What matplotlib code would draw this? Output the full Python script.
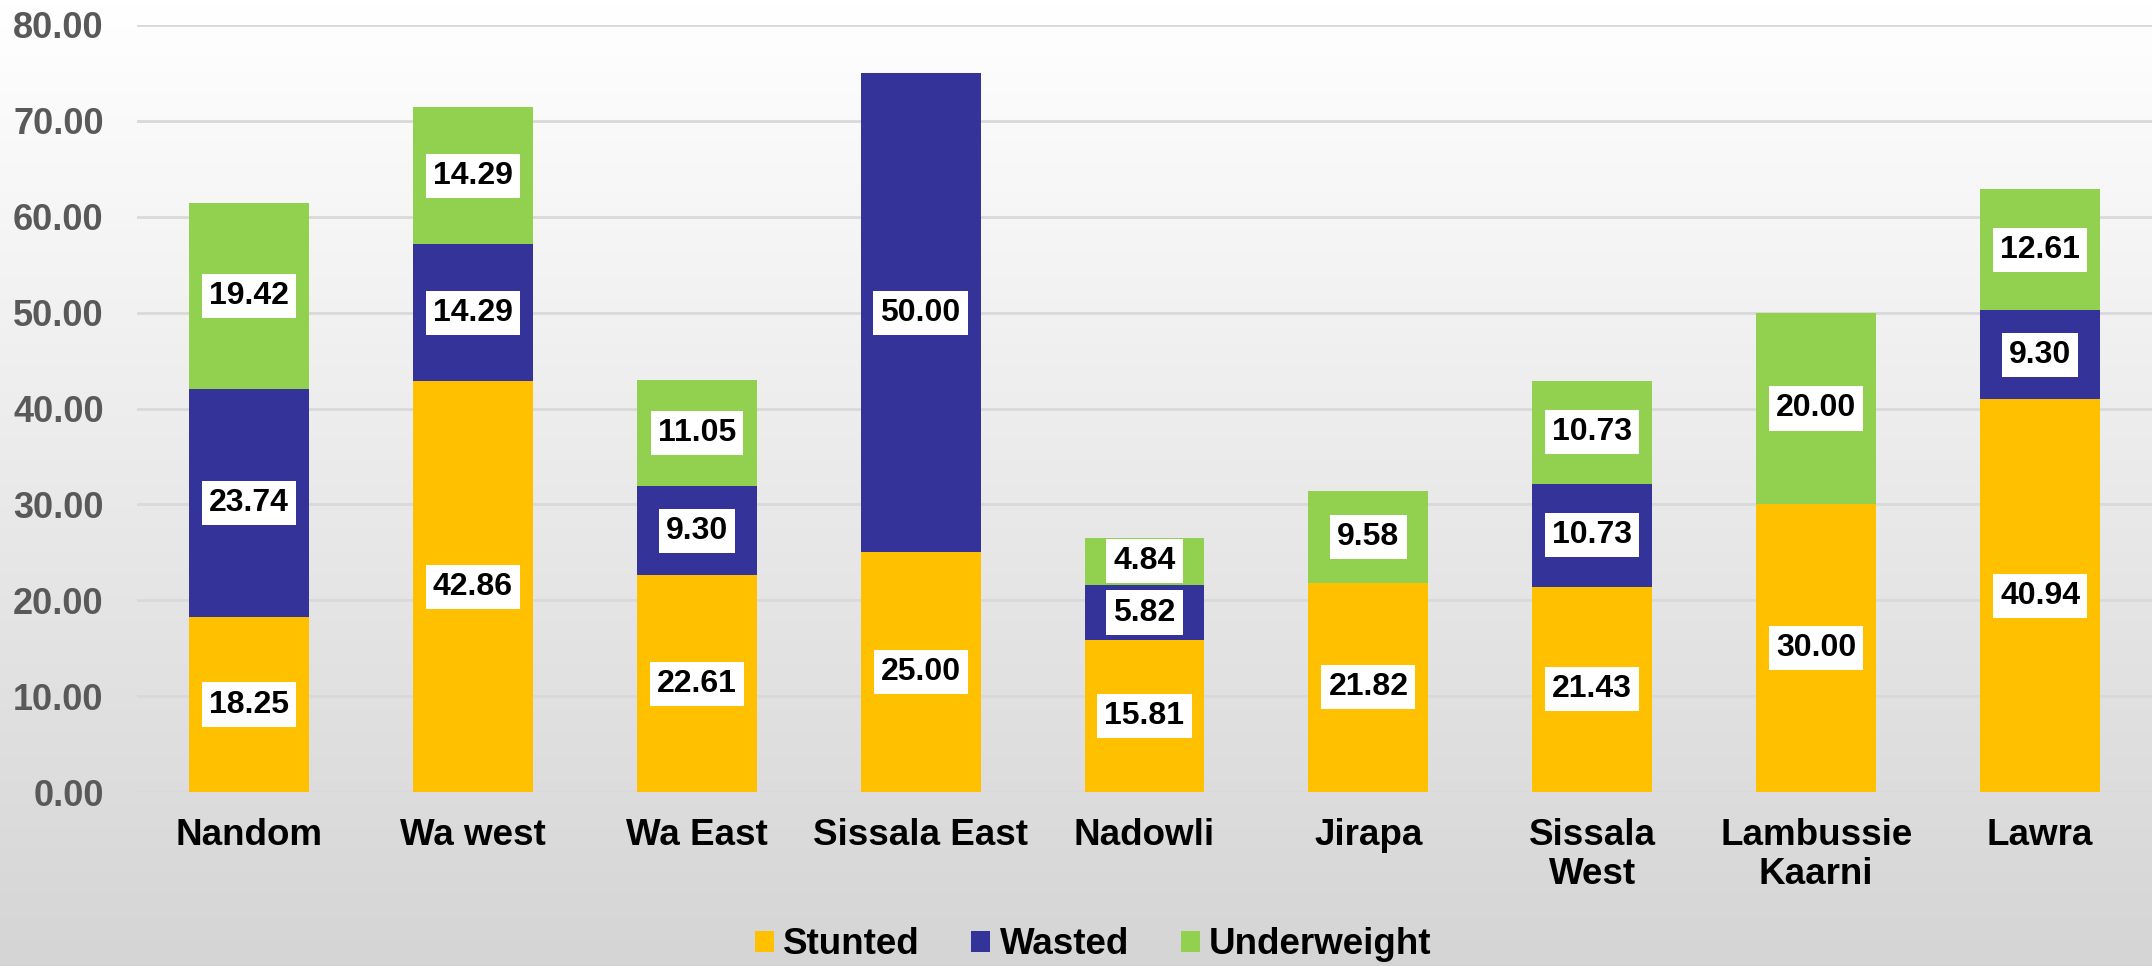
import matplotlib
matplotlib.use("Agg")
import matplotlib.pyplot as plt
import numpy as np

districts = ["Nandom", "Wa west", "Wa East", "Sissala East", "Nadowli", "Jirapa",
             "Sissala\nWest", "Lambussie\nKaarni", "Lawra"]
stunted = [18.25, 42.86, 22.61, 25.00, 15.81, 21.82, 21.43, 30.00, 40.94]
wasted = [23.74, 14.29, 9.30, 50.00, 5.82, 0, 10.73, 0, 9.30]
underweight = [19.42, 14.29, 11.05, 0, 4.84, 9.58, 10.73, 20.00, 12.61]
series_names = ["Stunted", "Wasted", "Underweight"]
colors = ["#FFC000", "#333399", "#92D050"]
yticks = [0, 10, 20, 30, 40, 50, 60, 70, 80]

plt.rcParams['font.family'] = ['Liberation Sans', 'DejaVu Sans']
plt.rcParams['font.weight'] = 'bold'

fig = plt.figure(figsize=(21.52, 9.66), dpi=100)

# background gradient
bg = fig.add_axes([0, 0, 1, 1], zorder=-10)
grad = np.linspace(1.0, 0.0, 256).reshape(-1, 1)
top = np.array([1.0, 1.0, 1.0])
bot = np.array([0.835, 0.835, 0.835])
img = (grad[..., None] * top + (1 - grad[..., None]) * bot)
bg.imshow(img, aspect='auto', extent=[0, 1, 0, 1], origin='upper')
bg.axis('off')

ax = fig.add_axes([137/2152, 1 - 792/966, 1 - 137/2152, (792 - 25)/966])
ax.set_facecolor('none')

x = np.arange(len(districts))
width = 0.535
bottoms = np.zeros(len(districts))
for vals, name, col in zip([stunted, wasted, underweight], series_names, colors):
    vals = np.array(vals)
    ax.bar(x, vals, width, bottom=bottoms, color=col, label=name, zorder=3)
    for xi, v, b in zip(x, vals, bottoms):
        if v > 0:
            ax.text(xi, b + v / 2, f"{v:.2f}", ha='center', va='center',
                    fontsize=23, fontweight='bold', color='black', zorder=5,
                    bbox=dict(boxstyle='square,pad=0.22', facecolor='white', edgecolor='none'))
    bottoms = bottoms + vals

ax.set_xlim(-0.5, len(districts) - 0.5)
ax.set_ylim(0, 80)
ax.set_yticks(yticks)
ax.set_yticklabels([f"{t:.2f}" for t in yticks])
ax.set_xticks(x)
ax.set_xticklabels(districts, linespacing=1.15)
ax.tick_params(axis='y', length=0, pad=24, labelsize=26, labelcolor='#595959')
ax.tick_params(axis='x', length=0, pad=19, labelsize=26.5, labelcolor='black')
for lab in ax.get_xticklabels() + ax.get_yticklabels():
    lab.set_fontweight('bold')
ax.grid(axis='y', color='#d9d9d9', linewidth=2, zorder=0)
ax.set_axisbelow(True)
for s in ax.spines.values():
    s.set_visible(False)

fig.legend(loc='center', bbox_to_anchor=(1093/2152, 1 - 945/966), ncol=3, frameon=False,
           handlelength=0.52, handleheight=0.52, handletextpad=0.25,
           columnspacing=1.4, prop={'weight': 'bold', 'size': 26.5})

fig.savefig("out.png", dpi=100)
